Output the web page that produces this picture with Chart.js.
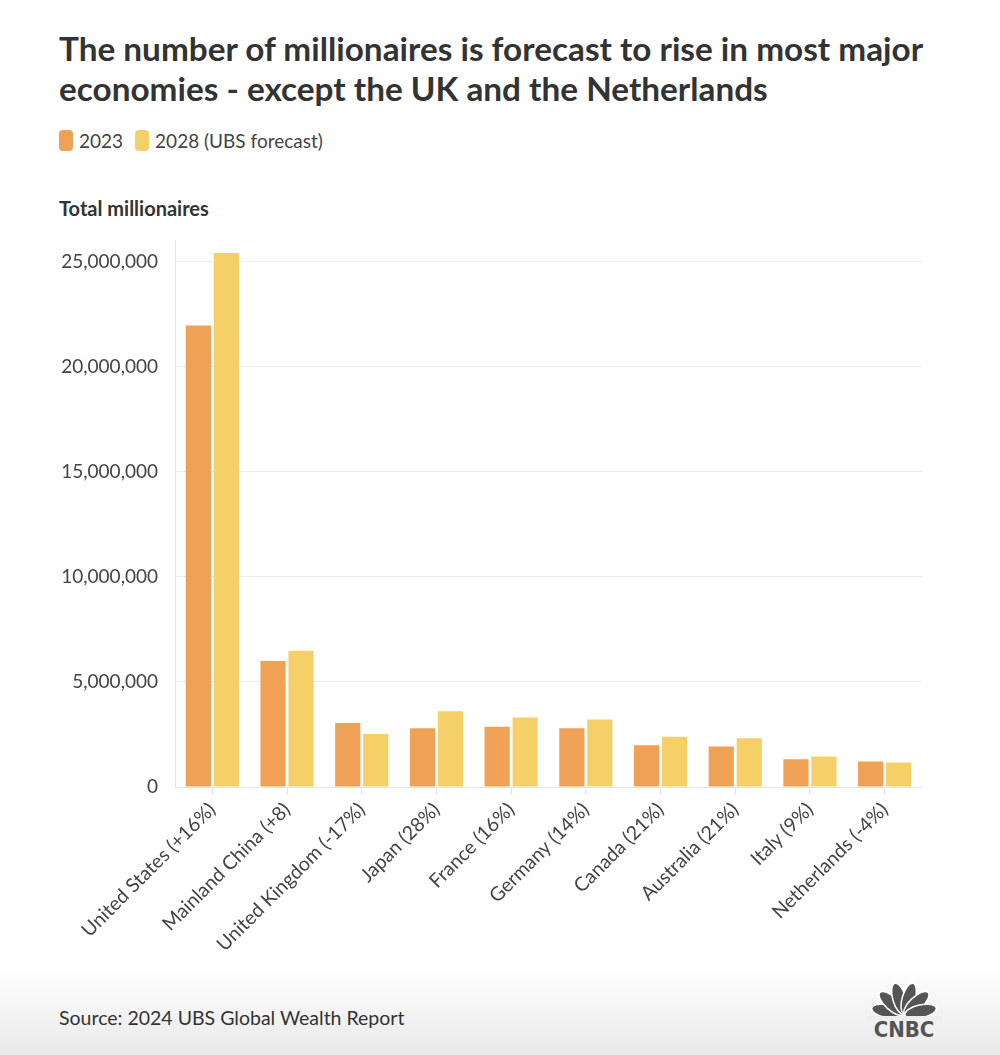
<!DOCTYPE html>
<html>
<head>
<meta charset="utf-8">
<script src="https://cdn.jsdelivr.net/npm/chart.js@4.4.1/dist/chart.umd.min.js"></script>
<style>
html, body { margin: 0; padding: 0; }
body {
  width: 1000px; height: 1055px; position: relative; overflow: hidden;
  background: linear-gradient(to bottom, #fff 0, #fff 965px, #e9e9e9 1055px);
  font-family: Lato, "Noto Sans", sans-serif; color: #333;
}
#title { position: absolute; left: 59px; top: 28px; width: 930px; font-size: 33.3px; font-weight: 700; line-height: 40px; color: #333; }
#legend { position: absolute; left: 59px; top: 129px; font-size: 19px; color: #444; display: flex; }
.item { display: flex; align-items: center; margin-right: 12px; }
.sw { width: 14px; height: 21px; border-radius: 4px; margin-right: 6px; }
#ytitle { position: absolute; left: 59px; top: 196px; font-size: 20px; font-weight: 700; color: #333; }
#wrap { position: absolute; left: 0; top: 212px; width: 1000px; height: 755px; }
#source { position: absolute; left: 59px; top: 1006px; font-size: 19.5px; color: #333; }
#logo { position: absolute; left: 866px; top: 982px; }
</style>
</head>
<body>
<div id="title">The number of millionaires is forecast to rise in most major economies - except the UK and the Netherlands</div>
<div id="legend"></div>
<div id="ytitle">Total millionaires</div>
<div id="wrap"><canvas id="chart"></canvas></div>
<div id="source">Source: 2024 UBS Global Wealth Report</div>
<svg id="logo" width="76" height="60" viewBox="0 0 76 60">
  <g fill="#555" stroke="#fff" stroke-width="1.5">
    <ellipse cx="38" cy="16" rx="6.5" ry="16" transform="rotate(-78 38 33)"/>
    <ellipse cx="38" cy="16" rx="6.5" ry="16" transform="rotate(-47 38 33)"/>
    <ellipse cx="38" cy="16" rx="6.5" ry="16" transform="rotate(-16 38 33)"/>
    <ellipse cx="38" cy="16" rx="6.5" ry="16" transform="rotate(16 38 33)"/>
    <ellipse cx="38" cy="16" rx="6.5" ry="16" transform="rotate(47 38 33)"/>
    <ellipse cx="38" cy="16" rx="6.5" ry="16" transform="rotate(78 38 33)"/>
  </g>
  <rect x="0" y="34" width="76" height="4" fill="#eee"/>
  <text x="38" y="55" text-anchor="middle" font-family="'DejaVu Sans Condensed', 'Liberation Sans Narrow', sans-serif" font-weight="700" font-size="22" fill="#555">CNBC</text>
</svg>

<script>
const countries = ['United States (+16%)', 'Mainland China (+8)', 'United Kingdom (-17%)', 'Japan (28%)', 'France (16%)',
  'Germany (14%)', 'Canada (21%)', 'Australia (21%)', 'Italy (9%)', 'Netherlands (-4%)']
const seriesNames = ['2023', '2028 (UBS forecast)']
const seriesColors = ['#efa255', '#f5cf68']
const values2023 = [21950000, 5990000, 3040000, 2800000, 2860000, 2800000, 1980000, 1930000, 1320000, 1210000]
const values2028 = [25400000, 6480000, 2520000, 3600000, 3310000, 3210000, 2390000, 2320000, 1450000, 1160000]
const yTicks = [0, 5000000, 10000000, 15000000, 20000000, 25000000]

// html legend
const legend = document.getElementById('legend')
seriesNames.forEach((name, i) => {
  const it = document.createElement('div')
  it.className = 'item'
  it.innerHTML = '<span class="sw" style="background:' + seriesColors[i] + '"></span>' + name
  legend.appendChild(it)
})

const ctx = document.getElementById('chart')
const myChart = new Chart(ctx, {
  type: 'bar',
  data: {
    labels: countries,
    datasets: [
      { label: seriesNames[0], data: values2023, backgroundColor: seriesColors[0] },
      { label: seriesNames[1], data: values2028, backgroundColor: seriesColors[1] }
    ]
  },
  options: {
    responsive: true,
    maintainAspectRatio: false,
    animation: false,
    layout: { padding: { top: 10, right: 78, left: 0, bottom: 0 } },
    datasets: { bar: { categoryPercentage: 0.75, barPercentage: 0.9 } },
    plugins: { legend: { display: false }, tooltip: { enabled: false } },
    scales: {
      x: {
        grid: { offset: false, drawOnChartArea: false, color: '#e3e3e3', tickLength: 8 },
        border: { color: '#e6e6e6' },
        ticks: {
          minRotation: 45, maxRotation: 45, padding: 3,
          color: '#444', font: { family: 'Lato', size: 19.5 }
        },
        afterFit: s => { s.height = 180 }
      },
      y: {
        min: 0,
        max: 26000000,
        afterBuildTicks: axis => { axis.ticks = yTicks.map(v => ({ value: v })) },
        grid: { color: '#ececec', drawTicks: false },
        border: { color: '#e6e6e6' },
        ticks: {
          padding: 17, color: '#444', font: { family: 'Lato', size: 19 },
          callback: v => v.toLocaleString('en-US')
        },
        afterFit: s => { s.width = 175 }
      }
    }
  }
})
</script>
</body>
</html>
